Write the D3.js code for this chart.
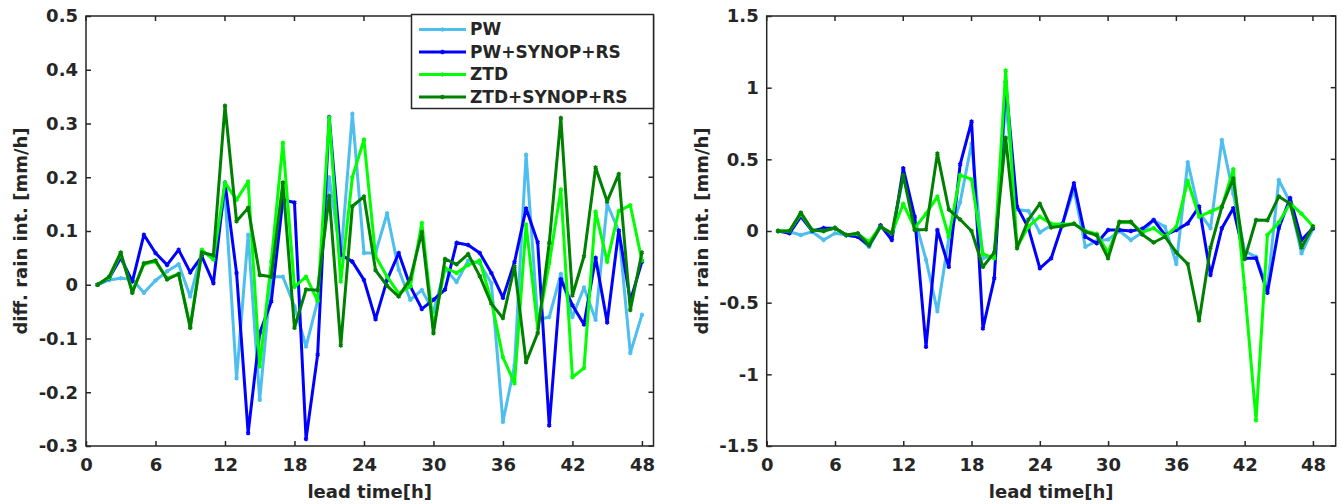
<!DOCTYPE html>
<html>
<head>
<meta charset="utf-8">
<script src="https://cdn.jsdelivr.net/npm/d3@7"></script>
<style>
  body { margin: 0; background: #fff; }
  svg text { font-family: "DejaVu Sans", sans-serif; font-weight: bold; fill: #262626; }
</style>
</head>
<body>
<svg id="chart" width="1342" height="504"></svg>
<script>
const leadTime = [1, 2, 3, 4, 5, 6, 7, 8, 9, 10, 11, 12, 13, 14, 15, 16, 17, 18, 19, 20, 21, 22, 23, 24,
  25, 26, 27, 28, 29, 30, 31, 32, 33, 34, 35, 36, 37, 38, 39, 40, 41, 42, 43, 44, 45, 46, 47, 48];

const seriesNames = ["PW", "PW+SYNOP+RS", "ZTD", "ZTD+SYNOP+RS"];
const seriesColors = ["#4DBEEE", "#0000FF", "#00FF00", "#008000"];

const xTicks = [0, 6, 12, 18, 24, 30, 36, 42, 48];
const leftYTicks = [-0.3, -0.2, -0.1, 0, 0.1, 0.2, 0.3, 0.4, 0.5];
const rightYTicks = [-1.5, -1, -0.5, 0, 0.5, 1, 1.5];

// left panel
const leftPW = [0, 0.009, 0.012, 0.01, -0.015, 0.008, 0.025, 0.038, -0.022, 0.062, 0.05, 0.17,
  -0.174, 0.093, -0.214, 0.015, 0.015, -0.04, -0.115, -0.03, 0.2, 0.05, 0.318, 0.059,
  0.059, 0.133, 0.028, -0.028, -0.01, -0.05, 0.03, 0.005, 0.045, 0.04, 0.003, -0.255,
  -0.15, 0.242, -0.065, -0.06, 0.02, -0.06, -0.005, -0.065, 0.15, 0.1, -0.127, -0.056];
const leftPWSyn = [0, 0.012, 0.05, 0.006, 0.093, 0.059, 0.037, 0.065, 0.023, 0.053, 0.003, 0.19,
  0.022, -0.276, -0.09, -0.031, 0.158, 0.153, -0.287, -0.13, 0.312, 0.056, 0.043, 0.009,
  -0.064, 0.009, 0.059, -0.003, -0.045, -0.028, -0.009, 0.078, 0.074, 0.059, 0.022, -0.024,
  0.042, 0.142, 0.079, -0.262, 0.01, -0.038, -0.074, 0.05, -0.07, 0.101, -0.03, 0.043];
const leftZTD = [0, 0.013, 0.058, -0.012, 0.038, 0.043, 0.012, 0.02, -0.078, 0.065, 0.047, 0.19,
  0.158, 0.192, -0.152, 0.043, 0.264, -0.004, 0.015, -0.03, 0.311, 0.006, 0.2, 0.27,
  0.053, 0.015, -0.016, -0.003, 0.115, -0.078, 0.031, 0.022, 0.037, 0.045, -0.03, -0.135,
  -0.183, 0.112, -0.08, 0.04, 0.177, -0.172, -0.155, 0.136, 0.043, 0.137, 0.148, 0.045];
const leftZTDSyn = [0, 0.015, 0.06, -0.015, 0.04, 0.045, 0.01, 0.02, -0.08, 0.06, 0.055, 0.333,
  0.118, 0.143, 0.018, 0.015, 0.19, -0.08, -0.009, -0.01, 0.165, -0.113, 0.146, 0.164,
  0.027, -0.002, -0.022, 0.011, 0.098, -0.09, 0.048, 0.038, 0.057, 0.016, -0.035, -0.062,
  0.034, -0.144, -0.09, 0.078, 0.31, -0.02, 0.053, 0.218, 0.155, 0.206, -0.047, 0.06];

// right panel
const rightPW = [0, -0.005, -0.028, -0.005, -0.063, -0.016, -0.028, -0.04, -0.11, 0.03, -0.028, 0.38,
  0.09, -0.2, -0.56, -0.05, 0.2, 0.61, -0.19, -0.17, 0.9, 0.15, 0.14, -0.01,
  0.04, 0.05, 0.29, -0.11, -0.07, -0.06, 0, -0.063, -0.01, 0.077, 0.03, -0.23,
  0.48, 0.13, 0.02, 0.635, 0.26, -0.14, -0.18, -0.4, 0.356, 0.2, -0.156, 0.015];
const rightPWSyn = [0, -0.016, 0.1, 0, 0.02, 0.02, -0.03, -0.04, -0.1, 0.04, -0.063, 0.437,
  0.1, -0.807, 0.007, -0.25, 0.465, 0.763, -0.68, -0.33, 1.04, 0.17, 0.02, -0.26,
  -0.19, 0.05, 0.333, -0.04, -0.086, 0.007, 0.007, 0, 0.015, 0.077, -0.028, 0.007,
  0.053, 0.17, -0.307, 0.02, 0.158, -0.19, -0.19, -0.43, 0.02, 0.23, -0.063, 0.02];
const rightZTD = [0, 0, 0.12, 0.005, 0, 0.02, -0.028, -0.02, -0.075, 0.03, -0.016, 0.19,
  0.02, 0.12, 0.24, -0.04, 0.39, 0.36, -0.16, -0.19, 1.12, -0.11, 0.03, 0.1,
  0.05, 0.045, 0.05, 0, -0.02, -0.15, 0.06, 0.06, -0.01, 0.02, -0.04, 0.03,
  0.35, 0.1, 0.135, 0.17, 0.43, -0.4, -1.32, -0.028, 0.06, 0.193, 0.12, 0.033];
const rightZTDSyn = [0, 0, 0.128, 0.007, 0, 0.02, -0.028, -0.016, -0.1, 0.03, -0.016, 0.39,
  0.007, 0.01, 0.54, 0.15, 0.08, 0, -0.25, -0.15, 0.65, -0.12, 0.08, 0.19,
  0.025, 0.035, 0.05, -0.005, -0.03, -0.19, 0.065, 0.065, -0.025, -0.08, -0.04, -0.15,
  -0.23, -0.625, -0.115, 0.17, 0.367, -0.195, 0.077, 0.075, 0.24, 0.19, -0.115, 0.032];

const panels = [
  { left: 86, right: 653.5, xMax: 49, yDomain: [-0.3, 0.5], yTicks: leftYTicks, labelX: 21,
    series: [leftPW, leftPWSyn, leftZTD, leftZTDSyn], legend: true },
  { left: 766.7, right: 1335.7, xMax: 50, yDomain: [-1.5, 1.5], yTicks: rightYTicks, labelX: 702,
    series: [rightPW, rightPWSyn, rightZTD, rightZTDSyn], legend: false }
];

const plotTop = 16, plotBottom = 446, tickLen = 5;
const axisColor = "#262626";
const svg = d3.select("#chart");
const marker = d3.symbol(d3.symbolAsterisk, 14);

panels.forEach(p => {
  const x = d3.scaleLinear().domain([0, p.xMax]).range([p.left, p.right]);
  const y = d3.scaleLinear().domain(p.yDomain).range([plotBottom, plotTop]);
  const g = svg.append("g");

  // lines
  const line = d3.line().x((d, i) => x(leadTime[i])).y(d => y(d));
  p.series.forEach((vals, k) => {
    g.append("path")
      .datum(vals)
      .attr("d", line)
      .attr("fill", "none")
      .attr("stroke", seriesColors[k])
      .attr("stroke-width", 3)
      .attr("stroke-linejoin", "round");
    g.append("g").selectAll("path")
      .data(vals)
      .enter()
      .append("path")
      .attr("d", marker)
      .attr("transform", (d, i) => "translate(" + x(leadTime[i]) + "," + y(d) + ")")
      .attr("fill", "none")
      .attr("stroke", seriesColors[k])
      .attr("stroke-width", 1.5);
  });

  // box
  g.append("rect")
    .attr("x", p.left).attr("y", plotTop)
    .attr("width", p.right - p.left).attr("height", plotBottom - plotTop)
    .attr("fill", "none").attr("stroke", axisColor).attr("stroke-width", 1.5);

  const xAxis = g.append("g")
    .attr("transform", "translate(0," + plotBottom + ")")
    .call(d3.axisBottom(x).tickValues(xTicks).tickSize(-tickLen).tickPadding(12).tickFormat(d => String(d)));
  const yAxis = g.append("g")
    .attr("transform", "translate(" + p.left + ",0)")
    .call(d3.axisLeft(y).tickValues(p.yTicks).tickSize(-tickLen).tickPadding(8).tickFormat(d => String(d)));
  [xAxis, yAxis].forEach(a => {
    a.select(".domain").remove();
    a.selectAll("line").attr("stroke", axisColor).attr("stroke-width", 1.5);
    a.selectAll("text").style("font-size", "18px").attr("fill", axisColor);
  });

  // mirrored ticks on top and right
  g.append("g").selectAll("line").data(xTicks).enter().append("line")
    .attr("x1", d => x(d)).attr("x2", d => x(d))
    .attr("y1", plotTop).attr("y2", plotTop + tickLen)
    .attr("stroke", axisColor).attr("stroke-width", 1.5);
  g.append("g").selectAll("line").data(p.yTicks).enter().append("line")
    .attr("x1", p.right).attr("x2", p.right - tickLen)
    .attr("y1", d => y(d)).attr("y2", d => y(d))
    .attr("stroke", axisColor).attr("stroke-width", 1.5);

  g.append("text")
    .attr("x", (p.left + p.right) / 2).attr("y", 498)
    .attr("text-anchor", "middle")
    .style("font-size", "18px")
    .text("lead time[h]");
  g.append("text")
    .attr("transform", "translate(" + p.labelX + "," + (plotTop + plotBottom) / 2 + ") rotate(-90)")
    .attr("text-anchor", "middle")
    .attr("dy", "0.35em")
    .style("font-size", "18px")
    .text("diff. rain int. [mm/h]");

  if (p.legend) {
    const lg = g.append("g");
    lg.append("rect")
      .attr("x", 411.5).attr("y", 14.5).attr("width", 242).attr("height", 94)
      .attr("fill", "#fff").attr("stroke", axisColor).attr("stroke-width", 1.5);
    seriesNames.forEach((name, k) => {
      const cy = 29.5 + k * 22.5;
      lg.append("line")
        .attr("x1", 419).attr("x2", 466).attr("y1", cy).attr("y2", cy)
        .attr("stroke", seriesColors[k]).attr("stroke-width", 3);
      lg.append("path")
        .attr("d", marker)
        .attr("transform", "translate(442.5," + cy + ")")
        .attr("fill", "none").attr("stroke", seriesColors[k]).attr("stroke-width", 1.5);
      lg.append("text")
        .attr("x", 470).attr("y", cy).attr("dy", "0.35em")
        .style("font-size", "17px")
        .text(name);
    });
  }
});
</script>
</body>
</html>
